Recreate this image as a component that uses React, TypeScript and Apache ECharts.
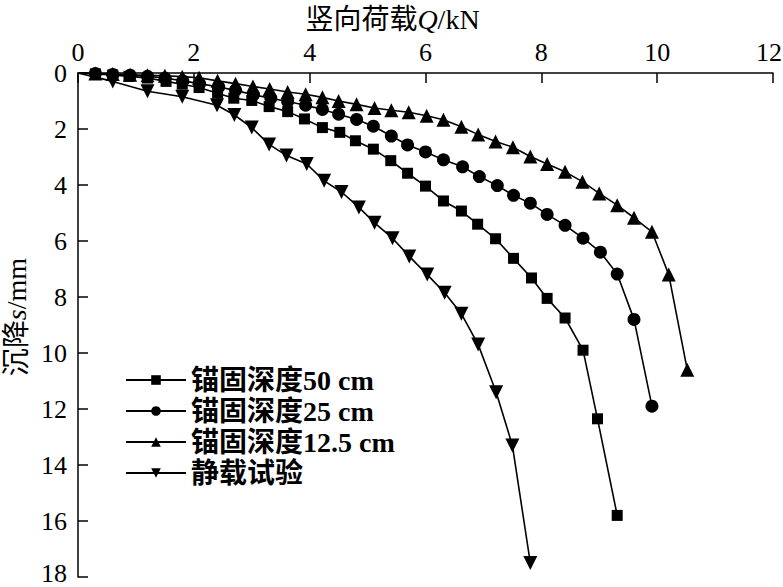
import React, { useEffect, useRef } from "react";
import * as echarts from "echarts";

const xTicks = [0, 2, 4, 6, 8, 10, 12];
const yTicks = [0, 2, 4, 6, 8, 10, 12, 14, 16, 18];

const seriesNames = ["锚固深度50 cm", "锚固深度25 cm", "锚固深度12.5 cm", "静载试验"];

const depth50Q = [0, 0.3, 0.6, 0.88, 1.2, 1.52, 1.8, 2.09, 2.41, 2.69, 3.0, 3.3, 3.62, 3.91, 4.22, 4.52, 4.79, 5.1, 5.4, 5.69, 6.0, 6.31, 6.62, 6.9, 7.21, 7.52, 7.83, 8.1, 8.41, 8.72, 8.97, 9.31];
const depth50S = [0, 0.03, 0.07, 0.12, 0.18, 0.3, 0.4, 0.52, 0.72, 0.9, 0.98, 1.2, 1.38, 1.64, 1.95, 2.12, 2.42, 2.72, 3.13, 3.58, 4.04, 4.57, 4.93, 5.4, 5.92, 6.62, 7.32, 8.05, 8.75, 9.9, 12.35, 15.8];

const depth25Q = [0, 0.3, 0.6, 0.9, 1.2, 1.5, 1.81, 2.1, 2.43, 2.72, 3.03, 3.33, 3.62, 3.93, 4.22, 4.5, 4.81, 5.1, 5.41, 5.69, 6.0, 6.31, 6.64, 6.93, 7.24, 7.52, 7.81, 8.1, 8.41, 8.72, 9.02, 9.31, 9.6, 9.91];
const depth25S = [0, 0.02, 0.05, 0.08, 0.12, 0.18, 0.28, 0.38, 0.5, 0.62, 0.78, 0.9, 1.02, 1.15, 1.3, 1.47, 1.66, 1.9, 2.25, 2.57, 2.82, 3.1, 3.35, 3.7, 4.02, 4.37, 4.65, 5.05, 5.44, 5.9, 6.4, 7.18, 8.8, 11.9];

const depth125Q = [0, 0.3, 0.6, 0.9, 1.2, 1.5, 1.8, 2.09, 2.41, 2.72, 3.02, 3.31, 3.62, 3.93, 4.22, 4.5, 4.81, 5.12, 5.41, 5.71, 6.02, 6.31, 6.62, 6.91, 7.21, 7.51, 7.81, 8.1, 8.41, 8.71, 9.0, 9.31, 9.6, 9.91, 10.2, 10.52];
const depth125S = [0, 0.02, 0.04, 0.06, 0.08, 0.1, 0.13, 0.17, 0.28, 0.38, 0.48, 0.57, 0.68, 0.76, 0.87, 1.0, 1.12, 1.25, 1.33, 1.4, 1.53, 1.67, 1.92, 2.2, 2.45, 2.65, 2.98, 3.25, 3.53, 3.88, 4.3, 4.72, 5.17, 5.67, 7.2, 10.6];

const staticQ = [0, 0.6, 1.2, 1.8, 2.4, 2.7, 3.0, 3.3, 3.6, 3.95, 4.25, 4.55, 4.85, 5.12, 5.43, 5.72, 6.03, 6.33, 6.62, 6.91, 7.22, 7.5, 7.81];
const staticS = [0, 0.3, 0.65, 0.85, 1.15, 1.5, 1.95, 2.55, 2.95, 3.25, 3.85, 4.25, 4.8, 5.35, 5.9, 6.55, 7.2, 7.85, 8.6, 9.7, 11.4, 13.3, 17.5];

const FONT = "'Liberation Serif', 'Times New Roman', 'Noto Sans CJK SC', serif";

function pairs(q: number[], s: number[]) {
  return q.map((v, i) =>
    i === 0 ? { value: [v, s[i]], symbol: "none" } : { value: [v, s[i]] }
  );
}

export default function App() {
  const ref = useRef<HTMLDivElement>(null);
  useEffect(() => {
    if (!ref.current) return;
    const chart = echarts.init(ref.current, undefined, { renderer: "svg" });
    const mk = (name: string, q: number[], s: number[], symbol: string, size: number, rotate = 0) => ({
      name,
      type: "line",
      data: pairs(q, s),
      symbol,
      symbolSize: size,
      symbolRotate: rotate,
      showAllSymbol: true,
      lineStyle: { color: "#000", width: 1.6 },
      itemStyle: { color: "#000" },
      clip: false,
    });
    const tickFont = { fontFamily: FONT, fontSize: 26, color: "#000" };
    chart.setOption({
      animation: false,
      backgroundColor: "#fff",
      grid: { left: 78, right: 10, top: 73, bottom: 10, containLabel: false, outerBoundsMode: "none" },
      legend: {
        orient: "vertical",
        left: 120,
        top: 361,
        itemWidth: 60,
        itemHeight: 12,
        itemGap: 3,
        data: seriesNames,
        textStyle: { fontFamily: FONT, fontSize: 28, color: "#000", fontWeight: "bold" },
      },
      xAxis: {
        type: "value",
        position: "top",
        min: 0,
        max: 12,
        interval: 2,
        name: "竖向荷载{i|Q}/kN",
        nameLocation: "middle",
        nameGap: 40,
        nameTextStyle: {
          fontFamily: FONT,
          fontSize: 28,
          color: "#000",
          padding: [0, 66, 0, 0],
          rich: { i: { fontFamily: FONT, fontSize: 28, fontStyle: "italic", color: "#000" } },
        },
        axisLine: { lineStyle: { color: "#000", width: 1.5 } },
        axisTick: { inside: true, length: 10, lineStyle: { color: "#000", width: 1.5 } },
        axisLabel: {
          ...tickFont,
          margin: 8,
          formatter: (v: number) =>
            xTicks.includes(v) ? (v === 12 ? "{r|" + v + "}" : String(v)) : "",
          rich: { r: { ...tickFont, padding: [0, 8, 0, 0] } },
        },
        splitLine: { show: false },
      },
      yAxis: {
        type: "value",
        inverse: true,
        min: 0,
        max: 18,
        interval: 2,
        name: "沉降{i|s}/mm",
        nameLocation: "middle",
        nameGap: 47,
        nameRotate: 90,
        nameTextStyle: {
          fontFamily: FONT,
          fontSize: 28,
          color: "#000",
          padding: [0, 0, 0, 16],
          rich: { i: { fontFamily: FONT, fontSize: 28, fontStyle: "italic", color: "#000" } },
        },
        axisLine: { lineStyle: { color: "#000", width: 1.5 } },
        axisTick: { inside: true, length: 10, lineStyle: { color: "#000", width: 1.5 } },
        axisLabel: {
          ...tickFont,
          margin: 11,
          formatter: (v: number) =>
            yTicks.includes(v) ? (v === 18 ? "{b|" + v + "}" : String(v)) : "",
          rich: { b: { ...tickFont, padding: [0, 0, 8, 0] } },
        },
        splitLine: { show: false },
      },
      series: [
        mk(seriesNames[0], depth50Q, depth50S, "rect", 11),
        mk(seriesNames[1], depth25Q, depth25S, "circle", 13),
        mk(seriesNames[2], depth125Q, depth125S, "triangle", 14),
        mk(seriesNames[3], staticQ, staticS, "triangle", 14, 180),
      ],
    });
    return () => chart.dispose();
  }, []);
  return (
    <div
      ref={ref}
      style={{ position: "fixed", left: 0, top: 0, width: 783, height: 587, background: "#fff" }}
    />
  );
}
